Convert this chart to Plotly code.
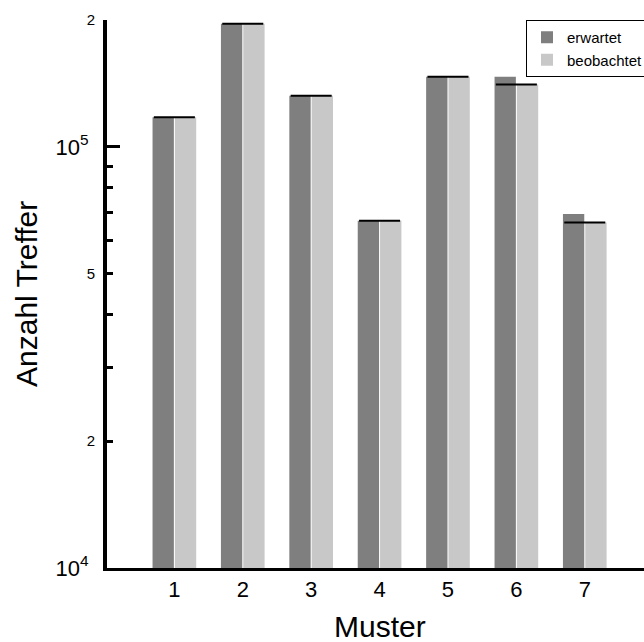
import math
import plotly.graph_objects as go

categories = ["1", "2", "3", "4", "5", "6", "7"]
erwartet = [117600, 196000, 132200, 66700, 146700, 146700, 69300]
beobachtet = [117600, 196000, 132200, 66700, 146700, 140600, 66100]

major_tick_vals = [1e4, 1e5]
major_tick_text = ["10<sup>4</sup>", "10<sup>5</sup>"]
minor_tick_vals = [2e4, 3e4, 4e4, 5e4, 6e4, 7e4, 8e4, 9e4, 2e5]
digit_tick_vals = [2e4, 5e4, 2e5]
digit_tick_text = ["2", "5", "2"]

FONT = "Liberation Sans, Arial, Helvetica, sans-serif"
pos = [i + 1 for i in range(len(categories))]

fig = go.Figure()
fig.add_trace(go.Bar(x=pos, y=erwartet, name="erwartet",
                     marker=dict(color="#7f7f7f", line=dict(width=0))))
fig.add_trace(go.Bar(x=pos, y=beobachtet, name="beobachtet",
                     marker=dict(color="#c8c8c8", line=dict(width=0))))

# black level line across each pair at the observed value
lx, ly = [], []
half = 0.30
for p, v in zip(pos, beobachtet):
    lx += [p - half, p + half, None]
    ly += [v, v, None]
fig.add_trace(go.Scatter(x=lx, y=ly, yaxis="y2", mode="lines", showlegend=False,
                         line=dict(color="black", width=2), hoverinfo="skip"))

yr = [4, math.log10(2e5)]
fig.update_layout(
    width=644, height=642,
    margin=dict(l=107, r=0, t=20, b=74, autoexpand=False),
    paper_bgcolor="white", plot_bgcolor="white",
    font=dict(family=FONT, color="black"),
    barmode="group", bargap=0.347, bargroupgap=0.045,
    showlegend=True,
    legend=dict(xref="container", yref="container",
                x=526 / 644, y=1 - 20 / 642, xanchor="left", yanchor="top",
                bordercolor="black", borderwidth=1, bgcolor="white",
                font=dict(size=15, family=FONT), tracegroupgap=0),
    xaxis=dict(range=[0.015, 7.866], tickmode="array", tickvals=pos,
               ticktext=categories, ticks="", showgrid=False, zeroline=False,
               showline=True, linecolor="black", linewidth=3,
               tickfont=dict(size=22), fixedrange=True),
    yaxis=dict(type="log", range=yr, tickmode="array",
               tickvals=major_tick_vals, ticktext=major_tick_text,
               ticks="inside", ticklen=13, tickwidth=3, tickcolor="black",
               showgrid=False, zeroline=False, showline=True,
               linecolor="black", linewidth=4, tickfont=dict(size=22),
               ticklabelstandoff=10,
               minor=dict(tickmode="array", tickvals=minor_tick_vals,
                          ticks="inside", ticklen=6, tickwidth=3,
                          tickcolor="black", showgrid=False)),
    yaxis2=dict(type="log", range=yr, overlaying="y", side="left", anchor="x",
                tickmode="array", tickvals=digit_tick_vals,
                ticktext=digit_tick_text, ticks="", showgrid=False,
                zeroline=False, showline=False, tickfont=dict(size=15),
                ticklabelstandoff=11),
    annotations=[
        dict(text="Anzahl Treffer", xref="paper", yref="paper",
             x=(26 - 107) / 537, y=0.5, xanchor="center", yanchor="middle",
             textangle=-90, showarrow=False, font=dict(size=30)),
        dict(text="Muster", xref="paper", yref="paper",
             x=(380 - 107) / 537, y=(568 - 626) / 548, xanchor="center",
             yanchor="middle", showarrow=False, font=dict(size=30)),
    ],
)

fig.write_html("out.html", config={"displayModeBar": False},
               post_script="document.body.style.margin='0';document.body.style.overflow='hidden';")
